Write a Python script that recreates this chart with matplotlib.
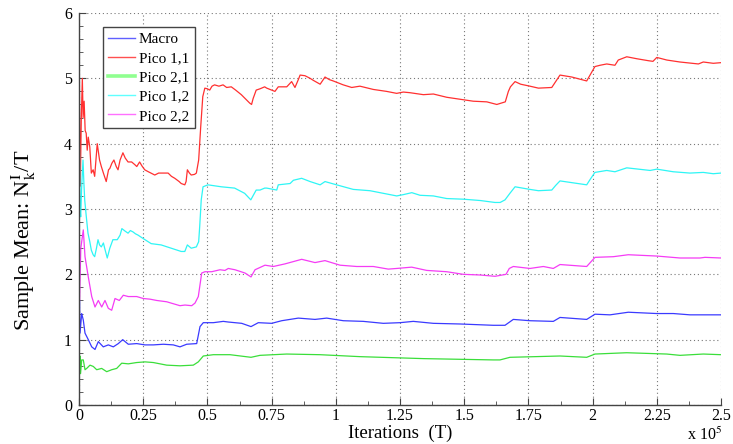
import matplotlib
matplotlib.use("Agg")
import matplotlib.pyplot as plt
from matplotlib.lines import Line2D
from matplotlib.ticker import MultipleLocator, FuncFormatter
import numpy as np

plt.rcParams['font.family'] = ['Liberation Serif', 'DejaVu Serif']
plt.rcParams['mathtext.fontset'] = 'stix'

SCALE = 1e5  # iterations per axis unit

# Sample means per cell (x in units of 1e5 iterations)
macro_x = [0.0, 0.002, 0.004, 0.0105, 0.0167, 0.0234, 0.0362, 0.0495, 0.0623, 0.0752, 0.0946,
           0.1141, 0.1336, 0.153, 0.1702, 0.192, 0.2247, 0.257, 0.2893, 0.3283, 0.3672, 0.3933,
           0.4194, 0.4583, 0.4712, 0.484, 0.523, 0.5619, 0.5814, 0.6336, 0.6698, 0.6982, 0.7504,
           0.7893, 0.854, 0.919, 0.9646, 1.0292, 1.1071, 1.185, 1.25, 1.3018, 1.3797, 1.4837,
           1.6133, 1.6394, 1.6589, 1.6912, 1.7562, 1.847, 1.8731, 1.977, 2.0093, 2.0677, 2.139,
           2.2496, 2.3143, 2.3793, 2.5]
macro_y = [1.1, 1.6, 1.1, 1.4, 1.3, 1.1, 1.0, 0.89, 0.85, 0.97, 0.89,
           0.92, 0.89, 0.94, 1.0, 0.93, 0.94, 0.92, 0.92, 0.93, 0.92, 0.89,
           0.93, 0.94, 1.2, 1.26, 1.26, 1.28, 1.27, 1.25, 1.2, 1.26, 1.25,
           1.29, 1.33, 1.31, 1.33, 1.29, 1.28, 1.25, 1.26, 1.28, 1.25, 1.24,
           1.22, 1.22, 1.22, 1.31, 1.29, 1.28, 1.34, 1.31, 1.39, 1.38, 1.42,
           1.4, 1.4, 1.38, 1.38]

pico11_x = [0.0, 0.002, 0.005, 0.009, 0.013, 0.016, 0.020, 0.024, 0.028, 0.032, 0.036, 0.042,
            0.048, 0.055, 0.061, 0.066, 0.071, 0.080, 0.087, 0.095, 0.106, 0.115, 0.120, 0.128,
            0.136, 0.145, 0.152, 0.160, 0.171, 0.180, 0.191, 0.205, 0.217, 0.225, 0.236, 0.245,
            0.256, 0.270, 0.295, 0.310, 0.327, 0.347, 0.360, 0.373, 0.390, 0.398, 0.412, 0.417,
            0.422, 0.430, 0.437, 0.450, 0.457, 0.466, 0.474, 0.482, 0.490, 0.500, 0.509, 0.518,
            0.528, 0.545, 0.561, 0.575, 0.593, 0.610, 0.632, 0.650, 0.665, 0.672, 0.678, 0.690,
            0.705, 0.723, 0.731, 0.750, 0.763, 0.776, 0.795, 0.809, 0.828, 0.841, 0.854, 0.861,
            0.880, 0.900, 0.912, 0.939, 0.958, 0.975, 0.990, 1.029, 1.062, 1.094, 1.146, 1.198,
            1.237, 1.263, 1.289, 1.341, 1.380, 1.432, 1.484, 1.535, 1.588, 1.627, 1.660, 1.672,
            1.680, 1.698, 1.720, 1.756, 1.789, 1.841, 1.856, 1.873, 1.919, 1.977, 1.990, 2.009,
            2.029, 2.055, 2.087, 2.100, 2.133, 2.172, 2.217, 2.235, 2.250, 2.289, 2.340, 2.412,
            2.431, 2.470, 2.5]
pico11_y = [5.9, 4.6, 3.35, 4.4, 5.0, 4.4, 4.65, 4.2, 4.16, 3.9, 4.1, 3.95,
            3.55, 3.6, 3.5, 3.75, 4.0, 3.75, 3.65, 3.55, 3.42, 3.6, 3.62, 3.7,
            3.75, 3.65, 3.6, 3.75, 3.86, 3.78, 3.72, 3.72, 3.68, 3.65, 3.72, 3.66,
            3.6, 3.57, 3.52, 3.55, 3.55, 3.55, 3.5, 3.47, 3.42, 3.39, 3.37, 3.42,
            3.6, 3.55, 3.52, 3.53, 3.55, 3.75, 4.26, 4.72, 4.85, 4.84, 4.82, 4.88,
            4.9, 4.88, 4.9, 4.86, 4.87, 4.82, 4.75, 4.68, 4.62, 4.6, 4.69, 4.82,
            4.84, 4.87, 4.85, 4.82, 4.8, 4.87, 4.87, 4.87, 4.95, 4.86, 4.98, 5.05,
            5.04, 5.0, 4.97, 4.91, 5.02, 4.98, 4.96, 4.9, 4.86, 4.88, 4.83, 4.8,
            4.77, 4.79, 4.78, 4.75, 4.76, 4.71, 4.68, 4.65, 4.64, 4.6, 4.64, 4.8,
            4.87, 4.95, 4.91, 4.88, 4.85, 4.86, 4.95, 5.05, 5.02, 4.96, 5.05, 5.18,
            5.2, 5.22, 5.2, 5.28, 5.33, 5.3, 5.27, 5.26, 5.32, 5.28, 5.25, 5.22,
            5.25, 5.23, 5.24]

pico21_x = [0.0, 0.002, 0.004, 0.006, 0.0105, 0.0167, 0.0234, 0.030, 0.0428, 0.0557, 0.0689,
            0.0884, 0.1079, 0.1273, 0.1468, 0.1663, 0.192, 0.2247, 0.257, 0.2893, 0.3415, 0.3933,
            0.4451, 0.4646, 0.484, 0.523, 0.588, 0.6698, 0.7048, 0.8088, 0.9385, 1.0942, 1.3407,
            1.6133, 1.6394, 1.6783, 1.8731, 1.977, 2.0093, 2.1328, 2.2885, 2.3404, 2.4311, 2.5]
pico21_y = [1.0, 0.5, 0.75, 0.48, 0.69, 0.69, 0.54, 0.56, 0.61, 0.59, 0.54,
            0.56, 0.51, 0.54, 0.56, 0.64, 0.63, 0.65, 0.66, 0.65, 0.61, 0.6,
            0.61, 0.66, 0.75, 0.77, 0.77, 0.73, 0.76, 0.78, 0.77, 0.74, 0.71,
            0.69, 0.69, 0.73, 0.75, 0.73, 0.78, 0.8, 0.78, 0.76, 0.78, 0.77]

pico12_x = [0.0, 0.002, 0.004, 0.0066, 0.010, 0.0156, 0.019, 0.0222, 0.028, 0.035, 0.042, 0.048,
            0.055, 0.061, 0.068, 0.074, 0.080, 0.087, 0.095, 0.100, 0.110, 0.120, 0.132, 0.149,
            0.160, 0.167, 0.180, 0.191, 0.200, 0.210, 0.220, 0.230, 0.249, 0.281, 0.320, 0.359,
            0.398, 0.412, 0.422, 0.437, 0.457, 0.466, 0.470, 0.476, 0.483, 0.502, 0.554, 0.606,
            0.645, 0.669, 0.690, 0.705, 0.723, 0.731, 0.770, 0.776, 0.822, 0.835, 0.867, 0.900,
            0.939, 0.958, 1.003, 1.068, 1.133, 1.185, 1.237, 1.263, 1.296, 1.328, 1.380, 1.432,
            1.497, 1.562, 1.620, 1.640, 1.659, 1.678, 1.698, 1.756, 1.789, 1.841, 1.856, 1.873,
            1.977, 1.990, 2.009, 2.055, 2.087, 2.133, 2.224, 2.250, 2.314, 2.379, 2.431, 2.470, 2.5]
pico12_y = [4.3, 3.9, 3.0, 2.88, 3.3, 3.75, 3.4, 3.14, 2.9, 2.63, 2.5, 2.37,
            2.3, 2.27, 2.4, 2.53, 2.45, 2.42, 2.48, 2.4, 2.25, 2.4, 2.53, 2.53,
            2.6, 2.7, 2.66, 2.63, 2.67, 2.65, 2.62, 2.6, 2.55, 2.47, 2.45, 2.4,
            2.35, 2.35, 2.45, 2.4, 2.42, 2.5, 2.73, 3.14, 3.34, 3.37, 3.34, 3.32,
            3.24, 3.14, 3.29, 3.29, 3.32, 3.32, 3.29, 3.37, 3.39, 3.44, 3.47, 3.42,
            3.37, 3.42, 3.37, 3.3, 3.28, 3.24, 3.2, 3.22, 3.25, 3.21, 3.2, 3.16,
            3.15, 3.13, 3.1, 3.1, 3.14, 3.24, 3.34, 3.3, 3.28, 3.29, 3.36, 3.43,
            3.37, 3.45, 3.56, 3.59, 3.57, 3.63, 3.59, 3.61, 3.57, 3.55, 3.56, 3.54, 3.55]

pico22_x = [0.0, 0.002, 0.004, 0.007, 0.0167, 0.0234, 0.0362, 0.0495, 0.0623, 0.0752, 0.0884,
            0.1012, 0.1141, 0.1273, 0.1402, 0.1569, 0.1725, 0.192, 0.2247, 0.2504, 0.2765, 0.3026,
            0.3415, 0.3672, 0.3933, 0.4128, 0.4389, 0.4517, 0.4646, 0.4778, 0.4907, 0.5167, 0.5491,
            0.5685, 0.5814, 0.6075, 0.6464, 0.6698, 0.6854, 0.7243, 0.7566, 0.8022, 0.8672, 0.919,
            0.9579, 1.0164, 1.0814, 1.146, 1.2044, 1.2372, 1.2955, 1.354, 1.4319, 1.4965, 1.5615,
            1.62, 1.6628, 1.6756, 1.6912, 1.7562, 1.8081, 1.847, 1.8731, 1.977, 2.0093, 2.0806,
            2.139, 2.2496, 2.3404, 2.4182, 2.4377, 2.5]
pico22_y = [2.5, 1.6, 1.9, 2.4, 2.68, 2.27, 1.96, 1.66, 1.5, 1.6, 1.5,
            1.6, 1.48, 1.45, 1.63, 1.6, 1.68, 1.66, 1.66, 1.63, 1.62, 1.6,
            1.58, 1.55, 1.52, 1.53, 1.52, 1.56, 1.66, 2.02, 2.04, 2.04, 2.07,
            2.06, 2.09, 2.07, 2.02, 1.96, 2.07, 2.14, 2.12, 2.16, 2.23, 2.18,
            2.21, 2.14, 2.12, 2.12, 2.08, 2.09, 2.11, 2.06, 2.04, 2.0, 1.99,
            1.97, 2.0, 2.09, 2.12, 2.09, 2.12, 2.09, 2.15, 2.12, 2.26, 2.27,
            2.3, 2.28, 2.25, 2.25, 2.26, 2.25]

series = [
    ("Macro", macro_x, macro_y, "#3a3aff"),
    ("Pico 1,1", pico11_x, pico11_y, "#ff3030"),
    ("Pico 2,1", pico21_x, pico21_y, "#3ade3a"),
    ("Pico 1,2", pico12_x, pico12_y, "#2ef5f5"),
    ("Pico 2,2", pico22_x, pico22_y, "#f53cf5"),
]
legend_colors = ["#6060ff", "#ff5050", "#90ff90", "#60ffff", "#ff70ff"]
legend_widths = [1.0, 1.0, 2.6, 1.0, 1.0]

fig = plt.figure(figsize=(7.33, 4.44), dpi=100)
ax = fig.add_axes([79 / 733, 39 / 444, 642 / 733, 392 / 444])

for name, xs, ys, col in series:
    ax.plot(np.array(xs) * SCALE, ys, color=col, lw=0.9)

ax.set_xlim(0, 2.5 * SCALE)
ax.set_ylim(0, 6)
ax.xaxis.set_major_locator(MultipleLocator(0.25 * SCALE))
ax.xaxis.set_minor_locator(MultipleLocator(0.125 * SCALE))
ax.yaxis.set_major_locator(MultipleLocator(1))
ax.yaxis.set_minor_locator(MultipleLocator(0.2))
ax.xaxis.set_major_formatter(FuncFormatter(lambda v, p: "%g" % round(v / SCALE, 3)))

ax.grid(True, which="major", linestyle=(0, (1, 2.5)), color="#777777", lw=0.8)
for s in ("top", "right"):
    ax.spines[s].set_visible(False)
for s in ("left", "bottom"):
    ax.spines[s].set_color("#444444")
    ax.spines[s].set_linewidth(1.0)

ax.tick_params(which="both", direction="in", colors="#444444", labelcolor="black",
               labelsize=11.5)
ax.tick_params(which="major", length=5)
ax.tick_params(which="minor", length=3)
ax.tick_params(axis="x", pad=2)
ax.tick_params(axis="y", pad=5)

ax.set_xlabel("Iterations  (T)", fontsize=13.5, labelpad=1)
ax.set_ylabel(r"Sample Mean: N$_{\mathrm{k}}^{\mathrm{I}}$/T", fontsize=16)
ax.yaxis.set_label_coords(-0.064, 0.42)
fig.text(722 / 733, 4 / 444, r"x 10$^{5}$", ha="right", va="baseline", fontsize=11.5)

handles = [Line2D([], [], color=c, lw=w) for c, w in zip(legend_colors, legend_widths)]
leg = ax.legend(handles, [s[0] for s in series], loc="upper left",
                bbox_to_anchor=(24 / 642, 1 - 14 / 392), fontsize=11,
                handlelength=1.75, handletextpad=0.25, borderpad=0.35,
                labelspacing=0.36, fancybox=False, framealpha=1, borderaxespad=0)
leg.get_frame().set_edgecolor("#444444")
leg.get_frame().set_linewidth(1.0)

fig.savefig("out.png", dpi=100)
